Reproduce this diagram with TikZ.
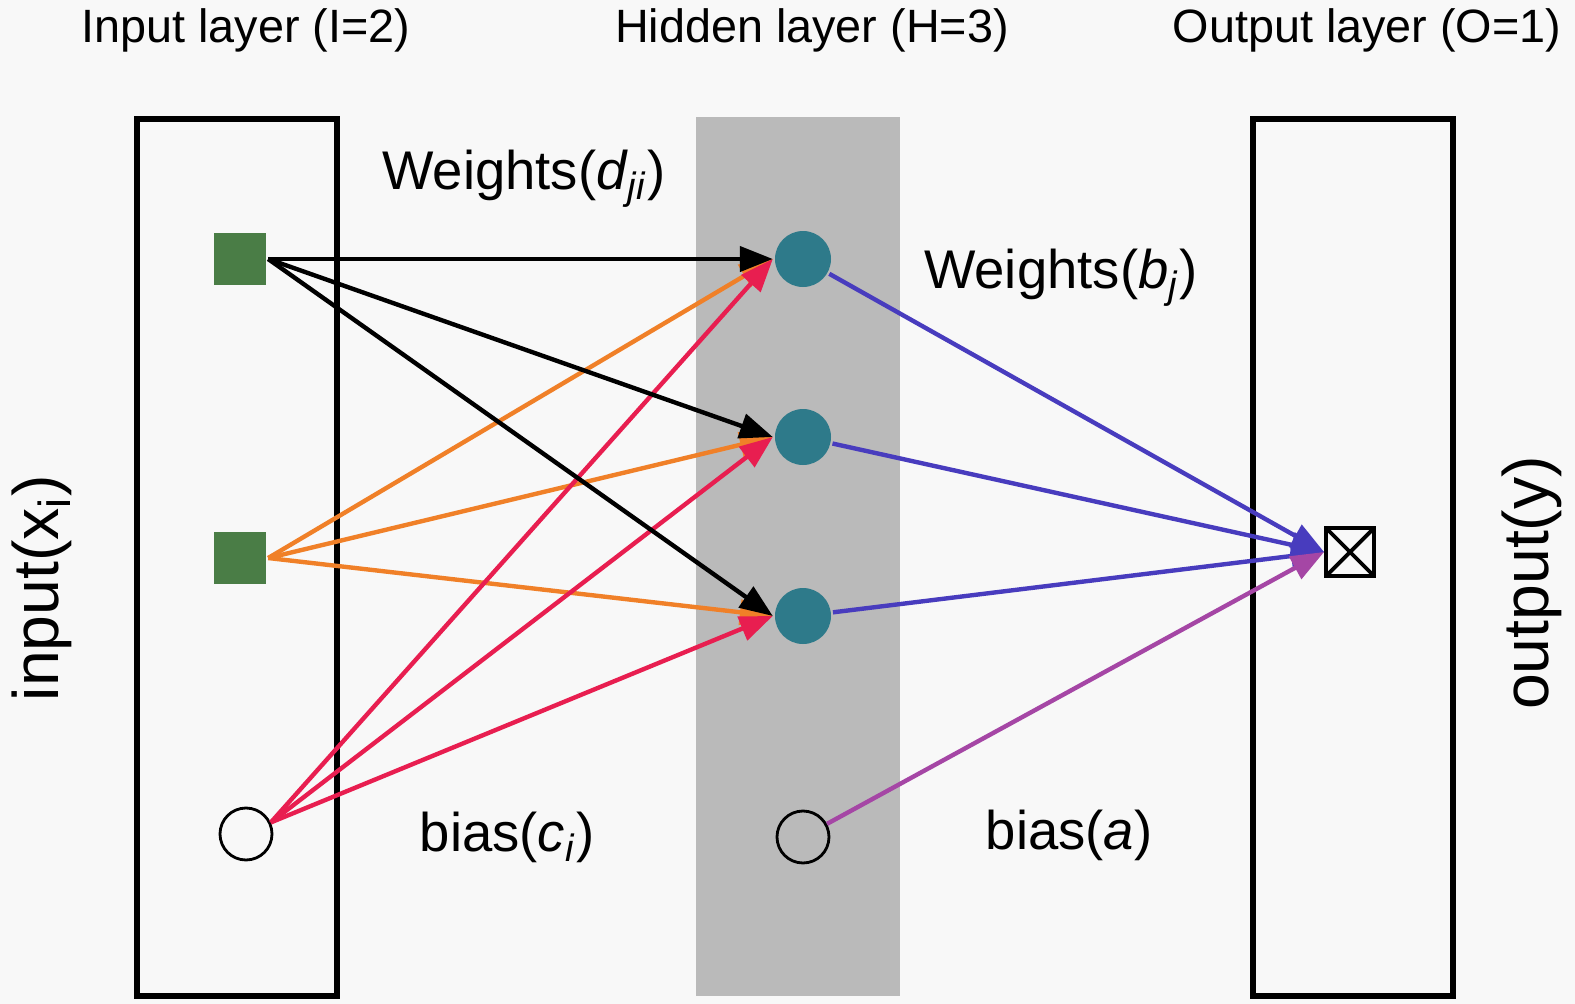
\documentclass[tikz,border=0pt]{standalone}
\usepackage{fontspec}
\setmainfont{Liberation Sans}
\usepackage{tikz}
\usetikzlibrary{arrows.meta}
\usetikzlibrary{positioning}
\definecolor{bgcol}{RGB}{248,248,248}
\definecolor{bandgray}{RGB}{186,186,186}
\definecolor{sqgreen}{RGB}{74,125,70}
\definecolor{nodeteal}{RGB}{46,122,138}
\definecolor{wtorange}{RGB}{240,128,40}
\definecolor{biasred}{RGB}{232,30,80}
\definecolor{outblue}{RGB}{72,60,190}
\definecolor{biaspurple}{RGB}{165,70,165}
\begin{document}
\begin{tikzpicture}[on grid,>={Triangle[length=3.3mm,width=2.5mm]},line width=1.25pt,
  insq/.style={rectangle,fill=sqgreen,minimum size=0.52cm,inner sep=0pt},
  hid/.style={circle,fill=nodeteal,minimum size=0.56cm,inner sep=0pt},
  biasnode/.style={circle,draw,line width=0.8pt,minimum size=0.52cm,inner sep=0pt},
  outbx/.style={rectangle,draw,line width=1.1pt,minimum size=0.48cm,inner sep=0pt,
    path picture={\draw[line width=1.1pt] (path picture bounding box.north west) -- (path picture bounding box.south east)
      (path picture bounding box.north east) -- (path picture bounding box.south west);}},
  ttl/.style={font=\fontsize{13.3}{16}\selectfont,anchor=base},
  lbl/.style={font=\fontsize{15.5}{18}\selectfont,anchor=base},
  side/.style={font=\fontsize{18.3}{22}\selectfont,rotate=90}]
\fill[bgcol] (0,0) rectangle (15.75,-10.04);
\useasboundingbox (0,0) rectangle (15.75,-10.04);
%layers
\path[draw,line width=1.7pt] (1.37,-1.19) rectangle (3.37,-9.96);
\path[fill=bandgray] (6.96,-1.17) rectangle (9.00,-9.96);
\path[draw,line width=1.7pt] (12.53,-1.19) rectangle (14.53,-9.96);

\path node[insq] (x1) at (2.40,-2.59) {};
\path node[insq,below =2.99cm of x1] (x2) {};
\path node[biasnode] (c) at (2.46,-8.34) {};
\path node[hid] (h1) at (8.03,-2.59) {};
\path node[hid,below =1.78cm of h1] (h2) {};
\path node[hid,below =3.57cm of h1] (h3) {};
\path node[biasnode,below =5.78cm of h1] (a) {};
\path node[outbx] (y) at (13.50,-5.52) {};

\path[->,wtorange] (x2.east) edge (h1.west) edge (h2.west) edge (h3.west);
\path[->,biasred] (c.25) edge (h1.west) edge (h2.west) edge (h3.west);
\path[->,black] (x1.east) edge (h1.west) edge (h2.west) edge (h3.west);
\path[->,outblue] (h1) edge (y.west) (h2) edge (y.west) (h3) edge (y.west);
\path[->,biaspurple] (a) edge (y.west);

\path node[ttl] (tin) at (2.46,-0.42) {Input layer (I=2)};
\path node[ttl] (thid) at (8.12,-0.42) {Hidden layer (H=3)};
\path node[ttl] (tout) at (13.67,-0.42) {Output layer (O=1)};
\path node[lbl] (wd) at (5.24,-1.89) {Weights(\textit{d}\textsubscript{\textit{ji}})};
\path node[lbl] (wb) at (10.61,-2.88) {Weights(\textit{b}\textsubscript{\textit{j}})};
\path node[lbl] (bc) at (5.07,-8.51) {bias(\textit{c}\textsubscript{\textit{i}})};
\path node[lbl] (ba) at (10.69,-8.49) {bias(\textit{a})};
\path node[side] (xin) at (0.42,-5.88) {input(x\textsubscript{i})};
\path node[side] (yout) at (15.32,-5.83) {output(y)};
\end{tikzpicture}
\end{document}
